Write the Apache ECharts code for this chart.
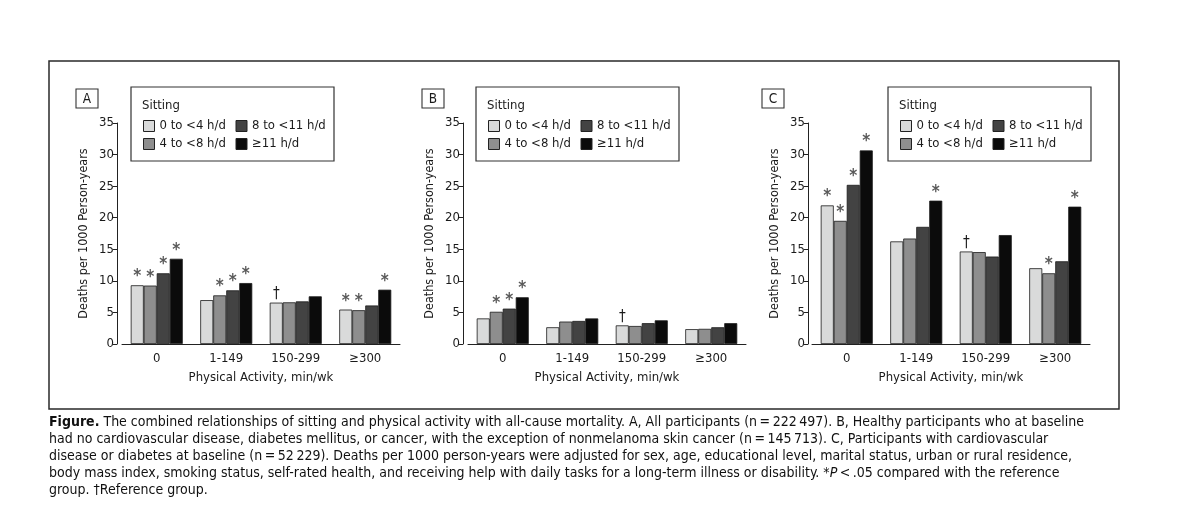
<!DOCTYPE html>
<html>
<head>
<meta charset="utf-8">
<title>Sitting and physical activity</title>
<script src="https://cdn.jsdelivr.net/npm/echarts@6/dist/echarts.min.js"></script>
<style>
  html, body { margin: 0; background: #fff; }
  #main { width: 1200px; height: 517px; }
</style>
</head>
<body>
<div id="main"></div>
<script>
// categories
const activity = ['0', '1-149', '150-299', '\u2265300'];
const sitting = ['0 to <4 h/d', '4 to <8 h/d', '8 to <11 h/d', '\u226511 h/d'];
const barColors = ['#d9dada', '#8e8e8e', '#434343', '#0b0b0b'];

// A, all participants
const a0to4 = [9.3, 6.95, 6.55, 5.45];
const a4to8 = [9.25, 7.7, 6.6, 5.35];
const a8to11 = [11.2, 8.5, 6.75, 6.1];
const a11plus = [13.5, 9.65, 7.55, 8.6];
const aMarks0to4 = ['*', '', '\u2020', '*'];
const aMarks4to8 = ['*', '*', '', '*'];
const aMarks8to11 = ['*', '*', '', ''];
const aMarks11plus = ['*', '*', '', '*'];

// B, healthy participants
const b0to4 = [4.05, 2.65, 2.95, 2.35];
const b4to8 = [5.1, 3.55, 2.85, 2.4];
const b8to11 = [5.6, 3.65, 3.3, 2.65];
const b11plus = [7.4, 4.05, 3.75, 3.3];
const bMarks0to4 = ['', '', '\u2020', ''];
const bMarks4to8 = ['*', '', '', ''];
const bMarks8to11 = ['*', '', '', ''];
const bMarks11plus = ['*', '', '', ''];

// C, cardiovascular disease or diabetes
const c0to4 = [21.95, 16.25, 14.65, 12.0];
const c4to8 = [19.5, 16.7, 14.55, 11.2];
const c8to11 = [25.2, 18.55, 13.85, 13.1];
const c11plus = [30.65, 22.7, 17.25, 21.75];
const cMarks0to4 = ['*', '', '\u2020', ''];
const cMarks4to8 = ['*', '', '', '*'];
const cMarks8to11 = ['*', '', '', ''];
const cMarks11plus = ['*', '*', '', '*'];

const yMin = 0, yMax = 35, yStep = 5;

const captionLines = [
    '{b|Figure.} The combined relationships of sitting and physical activity with all-cause mortality. A, All participants (n\u2009=\u2009222\u2009497). B, Healthy participants who at baseline',
    'had no cardiovascular disease, diabetes mellitus, or cancer, with the exception of nonmelanoma skin cancer (n\u2009=\u2009145\u2009713). C, Participants with cardiovascular',
    'disease or diabetes at baseline (n\u2009=\u200952\u2009229). Deaths per 1000 person-years were adjusted for sex, age, educational level, marital status, urban or rural residence,',
    'body mass index, smoking status, self-rated health, and receiving help with daily tasks for a long-term illness or disability. *{i|P}\u2009<\u2009.05 compared with the reference',
    'group. \u2020Reference group.'
];

const FONT = '"Liberation Sans Narrow", "DejaVu Sans Condensed", "Liberation Sans", sans-serif';

let panels = [
    { letter: 'A', values: [a0to4, a4to8, a8to11, a11plus], marks: [aMarks0to4, aMarks4to8, aMarks8to11, aMarks11plus] },
    { letter: 'B', values: [b0to4, b4to8, b8to11, b11plus], marks: [bMarks0to4, bMarks4to8, bMarks8to11, bMarks11plus] },
    { letter: 'C', values: [c0to4, c4to8, c8to11, c11plus], marks: [cMarks0to4, cMarks4to8, cMarks8to11, cMarks11plus] }
];

// layout of the three panels
let layout = [
    { gridLeft: 122, yOffset: 5, legendBox: 131, letterBox: 76 },
    { gridLeft: 468, yOffset: 5, legendBox: 476, letterBox: 422 },
    { gridLeft: 812, yOffset: 4, legendBox: 888, letterBox: 762 }
];

let chart = echarts.init(document.getElementById('main'));

let grids = [], xAxes = [], yAxes = [], legends = [], series = [], graphics = [];

// outer frame
graphics.push({
    type: 'rect', silent: true,
    shape: { x: 49, y: 61, width: 1070, height: 348 },
    style: { fill: 'none', stroke: '#2a2a2a', lineWidth: 1.5 }
});

panels.forEach(function (panel, p) {
    let lay = layout[p];
    grids.push({ left: lay.gridLeft, top: 123, width: 278, height: 221 });
    xAxes.push({
        type: 'category', gridIndex: p, data: activity,
        axisTick: { show: false },
        axisLine: { lineStyle: { color: '#222', width: 1 } },
        axisLabel: { color: '#1a1a1a', fontSize: 13, fontFamily: FONT, margin: 8 },
        name: 'Physical Activity, min/wk', nameLocation: 'middle', nameGap: 27,
        nameTextStyle: { color: '#1a1a1a', fontSize: 13, fontFamily: FONT }
    });
    yAxes.push({
        type: 'value', gridIndex: p, min: yMin, max: yMax, interval: yStep,
        offset: lay.yOffset,
        axisLine: { show: true, lineStyle: { color: '#222', width: 1 } },
        axisTick: { show: true, length: 4, lineStyle: { color: '#222' } },
        splitLine: { show: false },
        axisLabel: { color: '#1a1a1a', fontSize: 13, fontFamily: FONT, margin: 3 },
        name: 'Deaths per 1000 Person-years', nameLocation: 'middle', nameGap: 27,
        nameTextStyle: { color: '#1a1a1a', fontSize: 12.5, fontFamily: FONT }
    });
    legends.push({
        data: sitting,
        orient: 'vertical',
        left: lay.legendBox + 12, top: 119, height: 34,
        padding: 0, itemGap: 4,
        itemWidth: 11, itemHeight: 11,
        icon: 'rect',
        selectedMode: false,
        itemStyle: { borderColor: '#222', borderWidth: 1 },
        textStyle: { color: '#1a1a1a', fontSize: 13, fontFamily: FONT, lineHeight: 14, width: 72 }
    });
    sitting.forEach(function (name, s) {
        let marks = panel.marks[s];
        series.push({
            type: 'bar', name: name,
            xAxisIndex: p, yAxisIndex: p,
            data: panel.values[s],
            barWidth: 13, barGap: '0%',
            itemStyle: { color: barColors[s], borderColor: '#1a1a1a', borderWidth: 0.8 },
            label: {
                show: true, position: 'top', distance: 1,
                formatter: function (params) {
                    let m = marks[params.dataIndex];
                    if (m === '*') return '{s|*}';
                    if (m === '\u2020') return '{d|\u2020}';
                    return '';
                },
                rich: {
                    s: { color: '#5a5a5a', fontSize: 17, fontWeight: 'bold', fontFamily: FONT, lineHeight: 15 },
                    d: { color: '#1a1a1a', fontSize: 15, fontFamily: FONT, lineHeight: 15 }
                }
            },
            emphasis: { disabled: true }
        });
    });

    // legend frame and title
    graphics.push({
        type: 'rect', silent: true,
        shape: { x: lay.legendBox, y: 87, width: 203, height: 74 },
        style: { fill: 'none', stroke: '#333', lineWidth: 1.2 }
    });
    graphics.push({
        type: 'text', silent: true, x: lay.legendBox + 11, y: 106,
        style: { text: 'Sitting', fill: '#1a1a1a', font: '13px ' + FONT, verticalAlign: 'middle' }
    });
    // panel letter
    graphics.push({
        type: 'rect', silent: true,
        shape: { x: lay.letterBox, y: 89, width: 22, height: 19 },
        style: { fill: 'none', stroke: '#333', lineWidth: 1.1 }
    });
    graphics.push({
        type: 'text', silent: true, x: lay.letterBox + 11, y: 99,
        style: { text: panel.letter, fill: '#1a1a1a', font: '13.5px ' + FONT, align: 'center', verticalAlign: 'middle' }
    });
});

// caption
graphics.push({
    type: 'text', silent: true, x: 49, y: 414,
    style: {
        text: captionLines.join('\n'),
        fill: '#111', font: '14px ' + FONT, lineHeight: 17, verticalAlign: 'top',
        rich: {
            b: { fontWeight: 'bold', fontSize: 14, fontFamily: FONT, lineHeight: 17, fill: '#111' },
            i: { fontStyle: 'italic', fontSize: 14, fontFamily: FONT, lineHeight: 17, fill: '#111' }
        }
    }
});

let option = {
    backgroundColor: '#fff',
    animation: false,
    tooltip: { show: false },
    grid: grids,
    xAxis: xAxes,
    yAxis: yAxes,
    legend: legends,
    series: series,
    graphic: graphics
};

chart.setOption(option, true);
</script>
</body>
</html>
